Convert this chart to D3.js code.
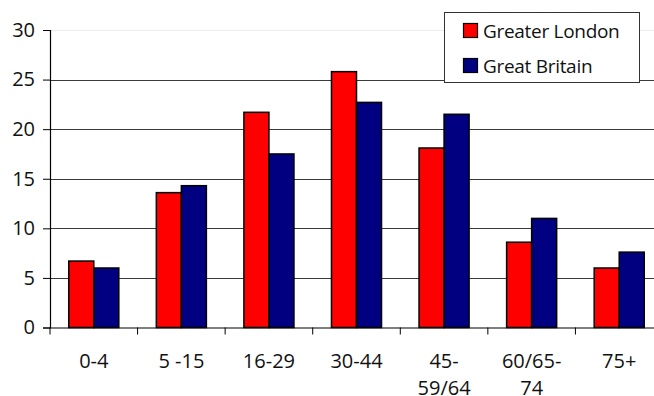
<!DOCTYPE html>
<html><head><meta charset="utf-8">
<script src="https://cdn.jsdelivr.net/npm/d3@7"></script>
<style>
html,body{margin:0;padding:0;background:#fff;overflow:hidden}
text{font-family:"Open Sans",sans-serif;fill:#111}
</style></head>
<body>
<svg id="c" width="654" height="396"></svg>
<script>
const categories = ["0-4","5 -15","16-29","30-44","45-\n59/64","60/65-\n74","75+"];
const seriesNames = ["Greater London","Great Britain"];
const greaterLondon = [6.7, 13.6, 21.7, 25.8, 18.1, 8.6, 6.0];
const greatBritain = [6.0, 14.3, 17.5, 22.7, 21.5, 11.0, 7.6];
const yTicks = [0,5,10,15,20,25,30];
const colors = ["#ff0000","#000080"];

(function(){
const svg = d3.select("#c");
const pLeft = 50, pRight = 663, pTop = 30, pBottom = 327.5;
const x = d3.scaleBand().domain(categories).range([pLeft, pRight]).padding(0);
const xs = d3.scaleBand().domain(seriesNames).range([0, x.bandwidth()]).paddingInner(0).paddingOuter(0.75);
const y = d3.scaleLinear().domain([0,30]).range([pBottom, pTop]);

// gridlines
svg.append("g").selectAll("line").data(yTicks.filter(d=>d>0)).join("line")
  .attr("x1", pLeft).attr("x2", pRight)
  .attr("y1", d=>Math.round(y(d))+0.5).attr("y2", d=>Math.round(y(d))+0.5)
  .attr("stroke", d=> d===30 ? "#ececec" : "#3a3a3a").attr("stroke-width", 1);

// bars
const data = [greaterLondon, greatBritain];
const g = svg.append("g");
categories.forEach((c,i)=>{
  seriesNames.forEach((s,j)=>{
    g.append("rect")
      .attr("x", x(c)+xs(s)).attr("width", xs.bandwidth())
      .attr("y", y(data[j][i])).attr("height", y(0)-y(data[j][i]))
      .attr("fill", colors[j]).attr("stroke","#000").attr("stroke-width",1.5);
  });
});

// y axis
const ya = d3.axisLeft(y).tickValues(yTicks).tickSize(7).tickPadding(8);
const yg = svg.append("g").attr("transform",`translate(${pLeft},0)`).call(ya);
yg.select(".domain").attr("stroke","#000").attr("stroke-width",1.2);
yg.selectAll(".tick line").attr("stroke","#000");
yg.selectAll(".tick text").attr("font-size",20).attr("font-family","Open Sans").attr("fill","#111");

// x axis
const xa = d3.axisBottom(x).tickSize(0).tickFormat("");
const xg = svg.append("g").attr("transform",`translate(0,${pBottom})`).call(xa);
xg.select(".domain").attr("stroke","#000").attr("stroke-width",1.2);
// category separator ticks
const bounds = categories.map(c=>x(c));
svg.append("g").selectAll("line").data(bounds).join("line")
  .attr("x1",d=>d).attr("x2",d=>d).attr("y1",pBottom).attr("y2",pBottom+7)
  .attr("stroke","#000").attr("stroke-width",1);
// labels
categories.forEach(c=>{
  const lines = c.split("\n");
  const cx = x(c)+x.bandwidth()/2;
  const t = svg.append("text").attr("text-anchor","middle").attr("font-size",20)
    .attr("x", cx).attr("y", 368);
  lines.forEach((l,k)=>{
    t.append("tspan").attr("x", cx).attr("dy", k===0?0:27).text(l);
  });
});

// legend
const lg = svg.append("g");
lg.append("rect").attr("x",444.5).attr("y",12.5).attr("width",195).attr("height",70)
  .attr("fill","#fff").attr("stroke","#333").attr("stroke-width",1);
seriesNames.forEach((s,j)=>{
  const yy = 23.5 + j*35;
  lg.append("rect").attr("x",463.5).attr("y",yy).attr("width",14).attr("height",14)
    .attr("fill",colors[j]).attr("stroke","#000").attr("stroke-width",1.2);
  lg.append("text").attr("x",483).attr("y",yy+14.5).attr("font-size",19)
    .attr("letter-spacing",-0.3).text(s);
});
})();
</script>
</body></html>
